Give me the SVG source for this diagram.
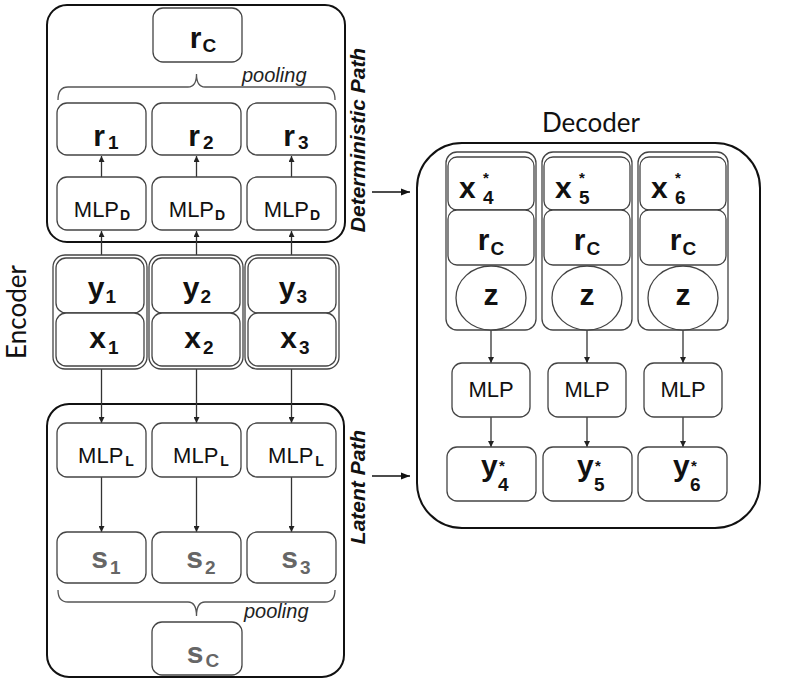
<svg xmlns="http://www.w3.org/2000/svg" width="788" height="686" viewBox="0 0 788 686">
<defs>
<style>
.bg{fill:#fff}
.box{fill:#fff;stroke:#444;stroke-width:1.3}
.outer{fill:none;stroke:#111;stroke-width:2}
.lbl{font-family:"Liberation Sans",Arial,sans-serif;font-weight:bold;font-size:30px;fill:#111}
.gray{fill:#666}
.sub{font-size:19px}
.sup{font-family:"Liberation Sans",Arial,sans-serif;font-size:15px;font-weight:bold;fill:#111}
.mlp{font-family:"Liberation Sans",Arial,sans-serif;font-size:22px;fill:#111}
.msub{font-size:14px;font-weight:bold}
.pool{font-family:"Liberation Sans",Arial,sans-serif;font-style:italic;font-size:20px;fill:#222}
.path{font-family:"Liberation Sans",Arial,sans-serif;font-style:italic;font-weight:bold;font-size:21px;fill:#111}
.title{font-family:Lato,"Open Sans",sans-serif;font-size:26px;fill:#111}
.conn{stroke:#333;stroke-width:1.3;fill:none;marker-end:url(#ah)}
.brace{stroke:#555;stroke-width:1.3;fill:none}
</style>
<marker id="ah" viewBox="0 0 8 8" refX="8" refY="4" markerWidth="6" markerHeight="6" orient="auto" markerUnits="userSpaceOnUse">
<path d="M0,0 L8,4 L0,8 z" fill="#222"/>
</marker>
<marker id="ahb" viewBox="0 0 10 10" refX="10" refY="5" markerWidth="9" markerHeight="9" orient="auto" markerUnits="userSpaceOnUse">
<path d="M0,1 L10,5 L0,9 z" fill="#111"/>
</marker>
</defs>
<rect class="bg" x="0" y="0" width="788" height="686"/>

<g id="labels">
<text class="title" transform="translate(26,312) rotate(-90)" text-anchor="middle">Encoder</text>
<text class="title" x="591" y="132" text-anchor="middle">Decoder</text>
<text class="path" transform="translate(365,140) rotate(-90)" text-anchor="middle">Deterministic Path</text>
<text class="path" transform="translate(365,487) rotate(-90)" text-anchor="middle">Latent Path</text>
<text class="pool" x="242" y="82">pooling</text>
<text class="pool" x="244" y="618">pooling</text>
</g>

<g id="det-path"><rect class="outer" x="47" y="5" width="298" height="237" rx="20"/></g>
<g id="latent-path"><rect class="outer" x="47" y="404" width="297" height="273" rx="22"/></g>
<g id="decoder"><rect class="outer" x="417" y="143" width="343" height="385" rx="45"/></g>

<g id="connectors">
<path class="conn" d="M101.5,177 V156"/>
<path class="conn" d="M196.5,177 V156"/>
<path class="conn" d="M291.5,177 V156"/>
<path class="conn" d="M101.5,255 V231"/>
<path class="conn" d="M196.5,255 V231"/>
<path class="conn" d="M291.5,255 V231"/>
<path class="conn" d="M101.5,369 V423"/>
<path class="conn" d="M196.5,369 V423"/>
<path class="conn" d="M291.5,369 V423"/>
<path class="conn" d="M101.5,477 V532"/>
<path class="conn" d="M196.5,477 V532"/>
<path class="conn" d="M291.5,477 V532"/>
<path class="conn" d="M491,330 V363"/>
<path class="conn" d="M587,330 V363"/>
<path class="conn" d="M683,330 V363"/>
<path class="conn" d="M491,417 V447"/>
<path class="conn" d="M587,417 V447"/>
<path class="conn" d="M683,417 V447"/>
<path d="M372,192 H410" stroke="#111" stroke-width="1.6" marker-end="url(#ahb)"/>
<path d="M372,476 H410" stroke="#111" stroke-width="1.6" marker-end="url(#ahb)"/>
<path class="brace" d="M58,100 Q58,87 68,87 L188,87 Q196.5,87 196.5,74 Q196.5,87 205,87 L325,87 Q335,87 335,100"/>
<path class="brace" d="M58,590 Q58,602 68,602 L188,602 Q196.5,602 196.5,616 Q196.5,602 205,602 L325,602 Q335,602 335,590"/>
</g>

<g id="rC"><rect class="box" x="153" y="8" width="89" height="54" rx="10"/>
<text class="lbl" x="203" y="48" text-anchor="middle">r<tspan class="sub" dx="1" dy="4">C</tspan></text></g>
<g id="r1"><rect class="box" x="57" y="103" width="89" height="52" rx="10"/>
<text class="lbl" x="106" y="146" text-anchor="middle">r<tspan class="sub" dx="3" dy="3">1</tspan></text></g>
<g id="r2"><rect class="box" x="152" y="103" width="89" height="52" rx="10"/>
<text class="lbl" x="201" y="146" text-anchor="middle">r<tspan class="sub" dx="3" dy="3">2</tspan></text></g>
<g id="r3"><rect class="box" x="247" y="103" width="89" height="52" rx="10"/>
<text class="lbl" x="296" y="146" text-anchor="middle">r<tspan class="sub" dx="3" dy="3">3</tspan></text></g>
<g id="mlpD1"><rect class="box" x="57" y="177" width="89" height="53" rx="10"/>
<text class="mlp" x="102" y="217" text-anchor="middle">MLP<tspan class="msub" dx="1" dy="3">D</tspan></text></g>
<g id="mlpD2"><rect class="box" x="152" y="177" width="89" height="53" rx="10"/>
<text class="mlp" x="197" y="217" text-anchor="middle">MLP<tspan class="msub" dx="1" dy="3">D</tspan></text></g>
<g id="mlpD3"><rect class="box" x="247" y="177" width="89" height="53" rx="10"/>
<text class="mlp" x="292" y="217" text-anchor="middle">MLP<tspan class="msub" dx="1" dy="3">D</tspan></text></g>

<g id="pair1"><rect class="box" x="53" y="255" width="94" height="114" rx="12"/>
<rect class="box" x="56" y="258" width="88" height="55" rx="10"/><rect class="box" x="56" y="313" width="88" height="53" rx="10"/>
<text class="lbl" x="102" y="298" text-anchor="middle">y<tspan class="sub" dx="1" dy="5">1</tspan></text>
<text class="lbl" x="104" y="348" text-anchor="middle">x<tspan class="sub" dx="2" dy="6">1</tspan></text></g>
<g id="pair2"><rect class="box" x="149" y="255" width="94" height="114" rx="12"/>
<rect class="box" x="152" y="258" width="88" height="55" rx="10"/><rect class="box" x="152" y="313" width="88" height="53" rx="10"/>
<text class="lbl" x="197" y="298" text-anchor="middle">y<tspan class="sub" dx="1" dy="5">2</tspan></text>
<text class="lbl" x="199" y="348" text-anchor="middle">x<tspan class="sub" dx="2" dy="6">2</tspan></text></g>
<g id="pair3"><rect class="box" x="245" y="255" width="94" height="114" rx="12"/>
<rect class="box" x="248" y="258" width="88" height="55" rx="10"/><rect class="box" x="248" y="313" width="88" height="53" rx="10"/>
<text class="lbl" x="293" y="298" text-anchor="middle">y<tspan class="sub" dx="1" dy="5">3</tspan></text>
<text class="lbl" x="295" y="348" text-anchor="middle">x<tspan class="sub" dx="2" dy="6">3</tspan></text></g>

<g id="mlpL1"><rect class="box" x="57" y="423" width="89" height="54" rx="10"/>
<text class="mlp" x="106" y="463" text-anchor="middle">MLP<tspan class="msub" dx="2" dy="3">L</tspan></text></g>
<g id="mlpL2"><rect class="box" x="152" y="423" width="89" height="54" rx="10"/>
<text class="mlp" x="201" y="463" text-anchor="middle">MLP<tspan class="msub" dx="2" dy="3">L</tspan></text></g>
<g id="mlpL3"><rect class="box" x="247" y="423" width="89" height="54" rx="10"/>
<text class="mlp" x="296" y="463" text-anchor="middle">MLP<tspan class="msub" dx="2" dy="3">L</tspan></text></g>
<g id="s1"><rect class="box" x="57" y="532" width="89" height="51" rx="10"/>
<text class="lbl gray" x="106" y="568" text-anchor="middle">s<tspan class="sub" dx="2" dy="6">1</tspan></text></g>
<g id="s2"><rect class="box" x="152" y="532" width="89" height="51" rx="10"/>
<text class="lbl gray" x="201" y="568" text-anchor="middle">s<tspan class="sub" dx="2" dy="6">2</tspan></text></g>
<g id="s3"><rect class="box" x="247" y="532" width="89" height="51" rx="10"/>
<text class="lbl gray" x="296" y="568" text-anchor="middle">s<tspan class="sub" dx="2" dy="6">3</tspan></text></g>
<g id="sC"><rect class="box" x="152" y="622" width="90" height="53" rx="10"/>
<text class="lbl gray" x="203" y="663" text-anchor="middle">s<tspan class="sub" dx="2" dy="4">C</tspan></text></g>

<g id="dcol4"><rect class="box" x="446" y="152" width="90" height="178" rx="11"/>
<rect class="box" x="448" y="157" width="86" height="53" rx="9"/><rect class="box" x="448" y="210" width="86" height="55" rx="9"/>
<ellipse class="box" cx="491" cy="298" rx="35" ry="32"/>
<text class="lbl" x="459" y="198">x</text><text class="sup" x="483" y="183">*</text><text class="lbl sub" x="483" y="204">4</text>
<text class="lbl" x="491" y="250" text-anchor="middle">r<tspan class="sub" dx="1" dy="5">C</tspan></text>
<text class="lbl" x="491" y="305" text-anchor="middle">z</text></g>
<g id="dcol5"><rect class="box" x="542" y="152" width="90" height="178" rx="11"/>
<rect class="box" x="544" y="157" width="86" height="53" rx="9"/><rect class="box" x="544" y="210" width="86" height="55" rx="9"/>
<ellipse class="box" cx="587" cy="298" rx="35" ry="32"/>
<text class="lbl" x="555" y="198">x</text><text class="sup" x="579" y="183">*</text><text class="lbl sub" x="579" y="204">5</text>
<text class="lbl" x="587" y="250" text-anchor="middle">r<tspan class="sub" dx="1" dy="5">C</tspan></text>
<text class="lbl" x="587" y="305" text-anchor="middle">z</text></g>
<g id="dcol6"><rect class="box" x="638" y="152" width="90" height="178" rx="11"/>
<rect class="box" x="640" y="157" width="86" height="53" rx="9"/><rect class="box" x="640" y="210" width="86" height="55" rx="9"/>
<ellipse class="box" cx="683" cy="298" rx="35" ry="32"/>
<text class="lbl" x="651" y="198">x</text><text class="sup" x="675" y="183">*</text><text class="lbl sub" x="675" y="204">6</text>
<text class="lbl" x="683" y="250" text-anchor="middle">r<tspan class="sub" dx="1" dy="5">C</tspan></text>
<text class="lbl" x="683" y="305" text-anchor="middle">z</text></g>

<g id="dmlp4"><rect class="box" x="452" y="363" width="78" height="54" rx="10"/><text class="mlp" x="491" y="397" font-size="21" text-anchor="middle">MLP</text></g>
<g id="dmlp5"><rect class="box" x="548" y="363" width="78" height="54" rx="10"/><text class="mlp" x="587" y="397" font-size="21" text-anchor="middle">MLP</text></g>
<g id="dmlp6"><rect class="box" x="644" y="363" width="78" height="54" rx="10"/><text class="mlp" x="683" y="397" font-size="21" text-anchor="middle">MLP</text></g>

<g id="ystar4"><rect class="box" x="447" y="447" width="89" height="54" rx="10"/>
<text class="lbl" x="481" y="476">y</text><text class="sup" x="499" y="471">*</text><text class="lbl sub" x="498" y="491">4</text></g>
<g id="ystar5"><rect class="box" x="543" y="447" width="89" height="54" rx="10"/>
<text class="lbl" x="577" y="476">y</text><text class="sup" x="595" y="471">*</text><text class="lbl sub" x="594" y="491">5</text></g>
<g id="ystar6"><rect class="box" x="638" y="447" width="89" height="54" rx="10"/>
<text class="lbl" x="673" y="476">y</text><text class="sup" x="691" y="471">*</text><text class="lbl sub" x="690" y="491">6</text></g>
</svg>
